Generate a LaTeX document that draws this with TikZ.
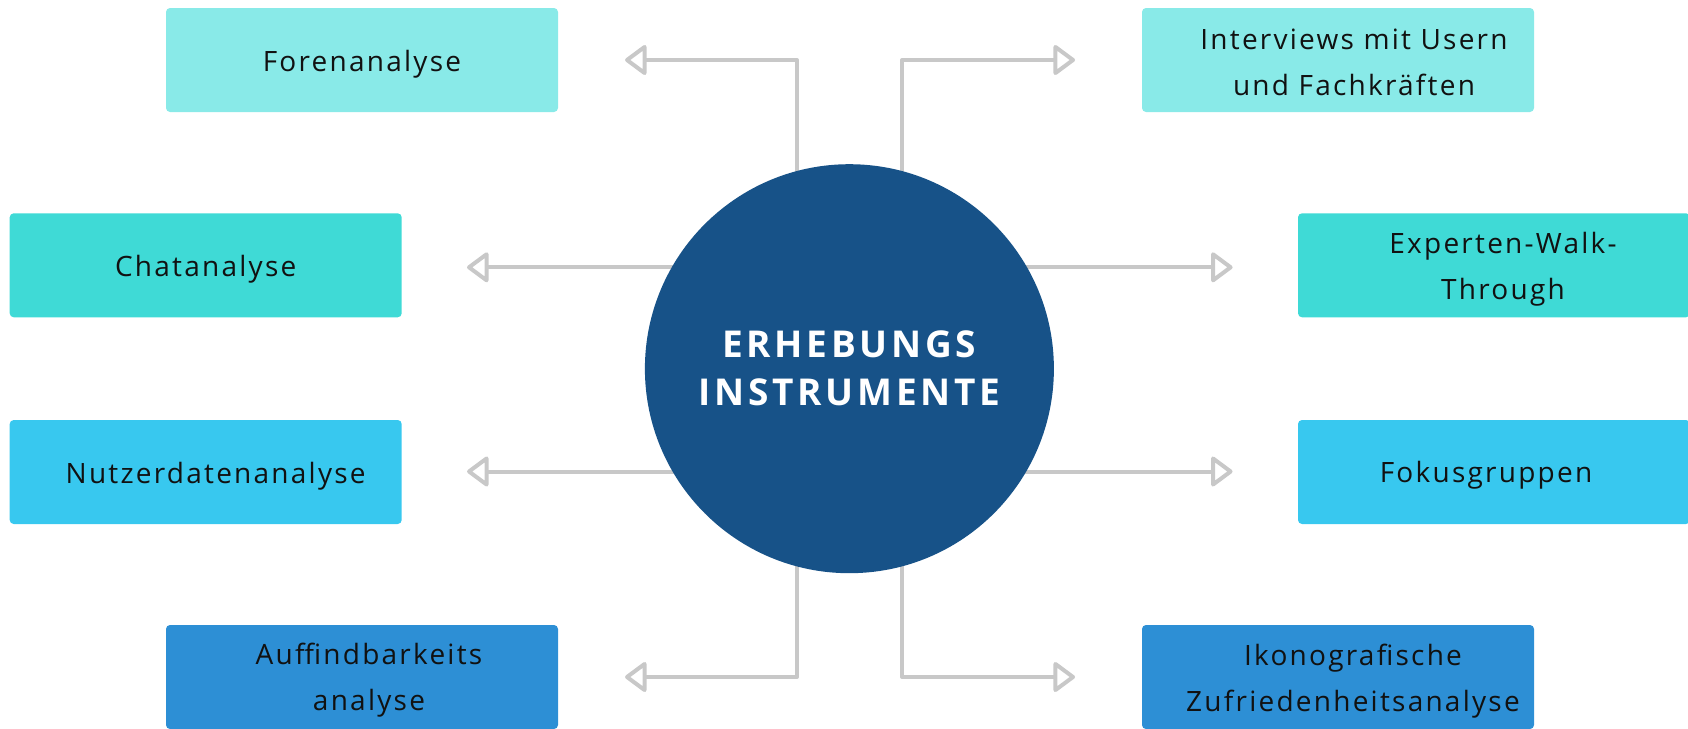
\documentclass[tikz,border=0pt]{standalone}
\usepackage{fontspec}
\setmainfont{Open Sans}
\newfontfamily\lblfont[LetterSpace=8]{Open Sans}
\newfontfamily\hubfont[LetterSpace=10]{Open Sans}
\usetikzlibrary{arrows.meta,backgrounds}

\definecolor{tealA}{HTML}{89EAE8}
\definecolor{tealB}{HTML}{3FDAD6}
\definecolor{skyC}{HTML}{38C8EF}
\definecolor{blueD}{HTML}{2D8FD5}
\definecolor{hubblue}{HTML}{175288}
\definecolor{lgray}{HTML}{C8C8C8}
\definecolor{txt}{HTML}{111111}

\begin{document}
\begin{tikzpicture}[x=1pt,y=-1pt,
  box/.style={rectangle, rounded corners=4pt, minimum width=392pt,
    minimum height=104pt, inner sep=0pt},
  lbl/.style={text=txt, align=center, inner sep=0pt,
    font=\lblfont\fontsize{28}{46}\selectfont},
  conn/.style={draw=lgray, line width=4pt, line join=round,
    -{Triangle[open,length=23pt,width=33pt,round]}},
]
\useasboundingbox (0,0) rectangle (1688,728);

% central hub
\node[circle, fill=hubblue, minimum size=409pt, inner sep=0pt, text=white,
  align=center, font=\hubfont\bfseries\fontsize{37}{48}\selectfont]
  (hub) at (849.4,368.7) {ERHEBUNGS\\INSTRUMENTE};

% method boxes, left column
\node[box, fill=tealA, label={[lbl, yshift=-4pt]center:Forenanalyse}]
  (fore) at (362,60) {};
\node[box, fill=tealB, label={[lbl, yshift=-4pt]center:Chatanalyse}]
  (chat) at (205.7,265.3) {};
\node[box, fill=skyC, label={[lbl, xshift=10pt, yshift=-4pt]center:Nutzerdatenanalyse}]
  (nutz) at (205.7,472) {};
\node[box, fill=blueD, label={[lbl, xshift=7pt, yshift=-3pt]center:Auffindbarkeits\\analyse}]
  (auff) at (362,677) {};

% method boxes, right column
\node[box, fill=tealA, label={[lbl, xshift=16pt, yshift=-2pt]center:Interviews mit Usern\\und Fachkräften}]
  (inter) at (1338,60) {};
\node[box, fill=tealB, label={[lbl, xshift=9pt, yshift=-4pt]center:Experten-Walk-\\Through}]
  (expw) at (1494,265.3) {};
\node[box, fill=skyC, label={[lbl, xshift=-8pt, yshift=-3pt]center:Fokusgruppen}]
  (foku) at (1494,472) {};
\node[box, fill=blueD, label={[lbl, xshift=15pt, yshift=-4pt]center:Ikonografische\\Zufriedenheitsanalyse}]
  (ikon) at (1338,677) {};

% arrow tips in front of the boxes
\coordinate (tFore)  at (625,60);
\coordinate (tChat)  at (467,267.3);
\coordinate (tNutz)  at (467,471.5);
\coordinate (tAuff)  at (625,677);
\coordinate (tInter) at (1075,60);
\coordinate (tExpw)  at (1232.6,267.3);
\coordinate (tFoku)  at (1232.6,471.5);
\coordinate (tIkon)  at (1075,677);

\begin{scope}[on background layer]
  \draw[conn] ([xshift=-52.4pt]hub.center) |- (tFore);
  \draw[conn] ([xshift=52.6pt]hub.center)  |- (tInter);
  \draw[conn] ([xshift=-52.4pt]hub.center) |- (tAuff);
  \draw[conn] ([xshift=52.6pt]hub.center)  |- (tIkon);
  \draw[conn] (hub.center |- tChat) -- (tChat);
  \draw[conn] (hub.center |- tNutz) -- (tNutz);
  \draw[conn] (hub.center |- tExpw) -- (tExpw);
  \draw[conn] (hub.center |- tFoku) -- (tFoku);
\end{scope}
\end{tikzpicture}
\end{document}
